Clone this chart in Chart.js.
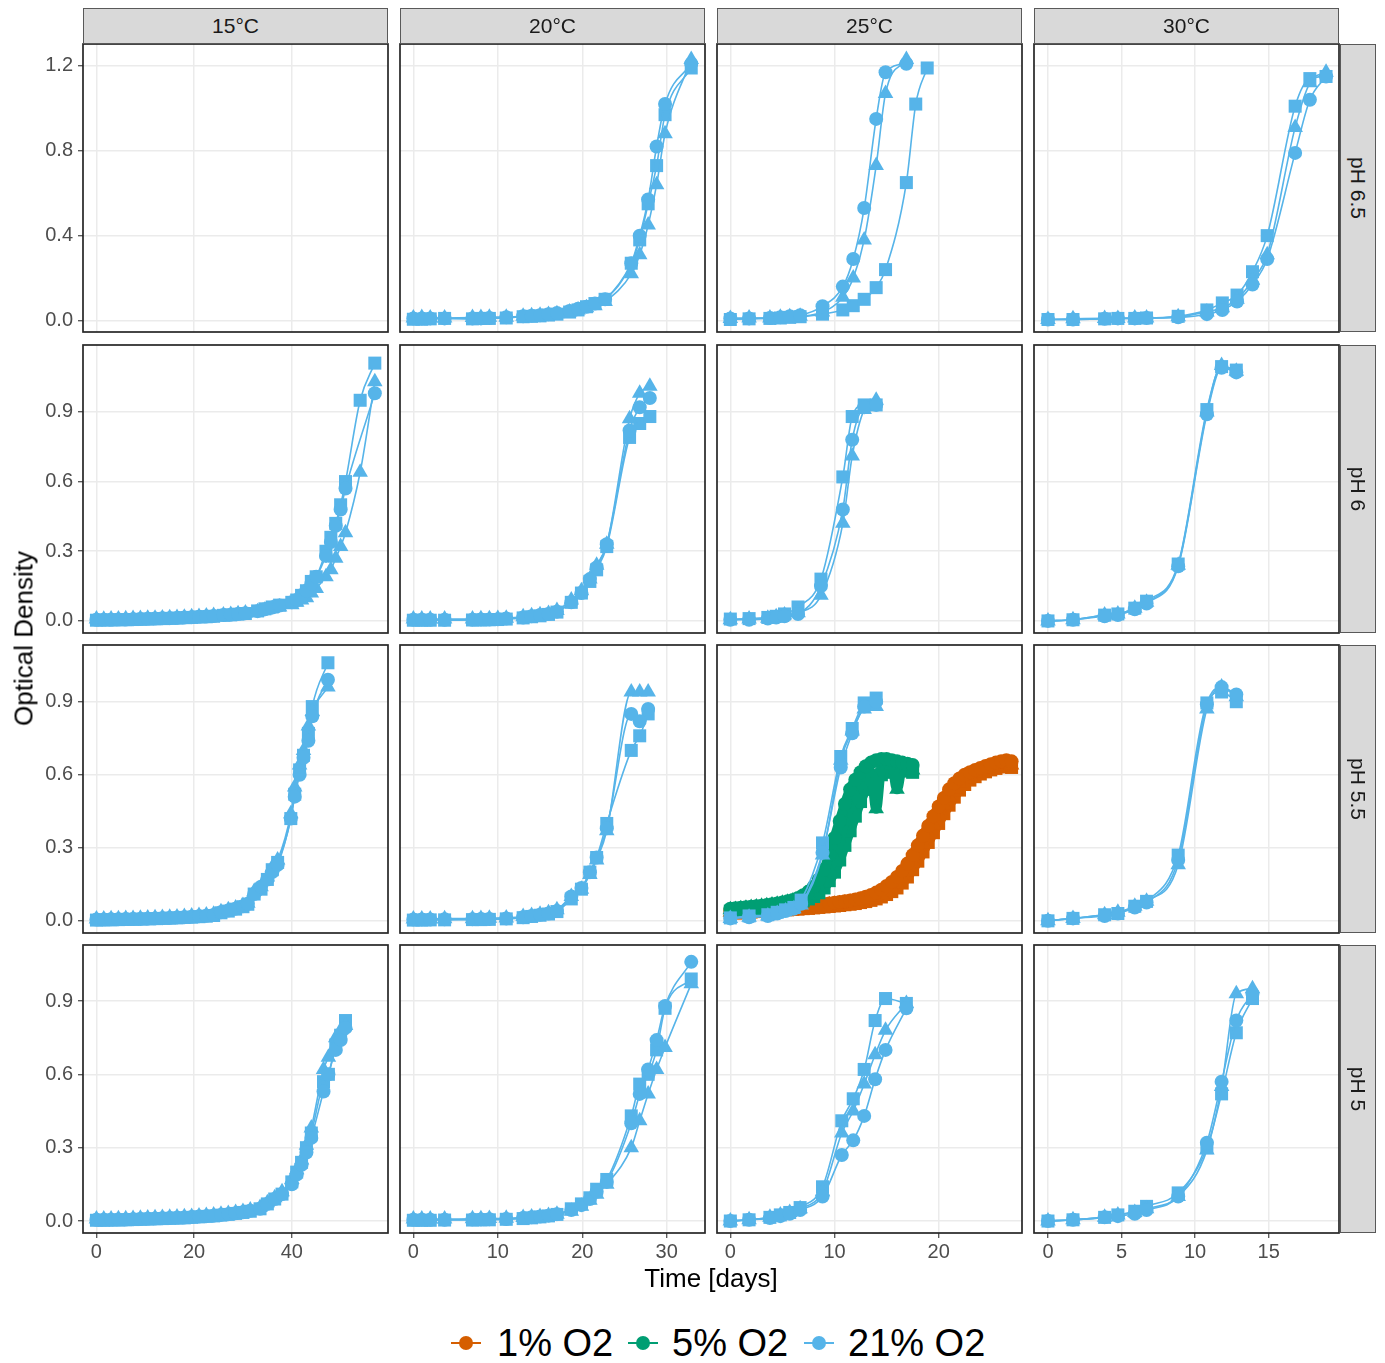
<!DOCTYPE html>
<html>
<head>
<meta charset="utf-8">
<title>Growth curves by temperature, pH and oxygen</title>
<script src="https://cdn.jsdelivr.net/npm/chart.js@4/dist/chart.umd.min.js"></script>
<style>
  html, body { margin: 0; padding: 0; background: #ffffff; }
  #fig { position: relative; width: 1385px; height: 1363px; overflow: hidden;
         font-family: "Liberation Sans", Arial, Helvetica, sans-serif; }
  #fig canvas { position: absolute; }
  .strip { position: absolute; box-sizing: border-box; background: #d9d9d9;
           border: 1px solid #595959; color: #1a1a1a; font-size: 21px;
           display: flex; align-items: center; justify-content: center; }
  .strip span { white-space: nowrap; }
  .strip.row span { transform: rotate(90deg); }
  .axis-title { position: absolute; color: #000; font-size: 26px; white-space: nowrap;
                text-align: center; }
  .legend-text { position: absolute; font-size: 38px; color: #000; white-space: nowrap; line-height: 44px; }
  .legend-line { position: absolute; height: 2px; width: 30px; }
  .legend-dot { position: absolute; width: 14px; height: 14px; border-radius: 50%; }
</style>
</head>
<body>
<div id="fig"></div>
<script>
// ---------------- facet labels and tick values ----------------
const temperatures = ['15°C', '20°C', '25°C', '30°C'];
const phLevels = ['pH 6.5', 'pH 6', 'pH 5.5', 'pH 5'];
const oxygenLevels = ['1% O2', '5% O2', '21% O2'];
const oxygenColours = ['#D55E00', '#009E73', '#56B4E9'];

const xTickValues = [[0, 20, 40], [0, 10, 20, 30], [0, 10, 20], [0, 5, 10, 15]];
const xLimitsLow = [-2.75, -1.58, -1.28, -0.95];
const xLimitsHigh = [59.7, 34.53, 28.0, 19.78];
const yTickValues = [[0, 0.4, 0.8, 1.2], [0, 0.3, 0.6, 0.9], [0, 0.3, 0.6, 0.9], [0, 0.3, 0.6, 0.9]];
const yLimitsLow = [-0.054, -0.052, -0.05, -0.049];
const yLimitsHigh = [1.303, 1.188, 1.133, 1.129];

// ---------------- 21% O2 replicates (r1 circle, r2 triangle, r3 square) ----------------
// 15°C
const days15_pH6 = [0,1.5,3,4.5,6,7.5,9,10.5,12,13.5,15,16.5,18,19.5,21,22.5,24,26,27.5,29,30.5,33,34.5,36,37.5,40,41,42,43,44,45,47,48,49,50,51,54,57];
const od15_pH6_r1 = [0.005,0.005,0.005,0.006,0.006,0.007,0.008,0.009,0.010,0.011,0.012,0.013,0.015,0.016,0.018,0.019,0.021,0.025,0.027,0.030,0.033,0.042,0.050,0.058,0.066,0.08,0.09,0.11,0.13,0.16,0.19,0.28,0.34,0.41,0.48,0.57,null,0.98];
const od15_pH6_r2 = [0.008,0.007,0.008,0.008,0.009,0.010,0.010,0.011,0.012,0.013,0.014,0.015,0.016,0.018,0.019,0.021,0.023,0.026,0.028,0.031,0.034,0.040,0.047,0.054,0.060,0.07,0.08,0.09,0.10,0.12,0.14,0.19,0.22,0.27,0.32,0.38,0.64,1.03];
const od15_pH6_r3 = [0.003,0.004,0.004,0.005,0.005,0.006,0.007,0.008,0.009,0.010,0.011,0.012,0.014,0.015,0.017,0.018,0.020,0.024,0.026,0.029,0.032,0.043,0.052,0.060,0.068,0.08,0.09,0.11,0.13,0.17,0.19,0.30,0.36,0.42,0.50,0.60,0.95,1.11];

const days15_pH55 = [0,1.5,3,4.5,6,7.5,9,10.5,12,13.5,15,16.5,18,19.5,21,22.5,24,25.5,27,28.5,30,31,32.3,33.7,35,36,37.1,39.8,40.6,41.6,42.4,43.4,44.2,47.4];
const od15_pH55_r1 = [0.005,0.005,0.006,0.006,0.007,0.008,0.008,0.009,0.010,0.011,0.012,0.014,0.015,0.017,0.019,0.021,0.024,0.035,0.042,0.050,0.060,0.070,0.11,0.14,0.17,0.20,0.23,0.42,0.51,0.60,0.67,0.74,0.84,0.99];
const od15_pH55_r2 = [0.008,0.008,0.009,0.009,0.010,0.010,0.011,0.012,0.013,0.014,0.015,0.016,0.018,0.020,0.022,0.024,0.027,0.037,0.045,0.053,0.063,0.072,0.12,0.14,0.18,0.22,0.25,0.44,0.55,0.64,0.70,0.80,0.86,0.96];
const od15_pH55_r3 = [0.003,0.004,0.004,0.005,0.006,0.006,0.007,0.008,0.009,0.010,0.011,0.012,0.014,0.015,0.017,0.019,0.022,0.033,0.040,0.048,0.058,0.068,0.11,0.13,0.17,0.21,0.24,0.42,0.52,0.62,0.68,0.77,0.88,1.06];

const days15_pH5 = [0,1.5,3,4.5,6,7.5,9,10.5,12,13.5,15,16.5,18,19.5,21,22.5,24,25.5,27,28.5,30,31.5,33.5,35,36.5,38,40,41,42,43,44,46.5,47.5,49,50,51];
const od15_pH5_r1 = [0.005,0.005,0.005,0.006,0.006,0.007,0.008,0.009,0.010,0.011,0.012,0.013,0.014,0.016,0.018,0.020,0.022,0.025,0.028,0.032,0.036,0.042,0.05,0.07,0.09,0.11,0.15,0.19,0.23,0.28,0.34,0.53,0.60,0.70,0.74,0.79];
const od15_pH5_r2 = [0.008,0.008,0.008,0.009,0.009,0.010,0.011,0.012,0.013,0.014,0.015,0.016,0.017,0.019,0.021,0.023,0.025,0.028,0.031,0.035,0.039,0.045,0.055,0.075,0.095,0.12,0.17,0.21,0.25,0.31,0.38,0.62,0.67,0.75,0.78,0.80];
const od15_pH5_r3 = [0.003,0.003,0.004,0.004,0.005,0.006,0.007,0.008,0.009,0.010,0.011,0.012,0.013,0.015,0.017,0.019,0.021,0.024,0.027,0.031,0.035,0.040,0.05,0.07,0.09,0.11,0.16,0.20,0.24,0.30,0.36,0.57,0.60,0.72,0.76,0.82];

// 20°C
const days20_pH65 = [0,1,2,3.7,7,8,9,11,13,14,15,16,17,18.5,19.5,20.5,21.5,22.7,25.8,26.8,27.8,28.8,29.8,32.9];
const od20_pH65_r1 = [0.01,0.01,0.01,0.01,0.01,0.01,0.012,0.015,0.02,0.022,0.025,0.03,0.035,0.045,0.055,0.065,0.08,0.10,0.27,0.40,0.57,0.82,1.02,1.21];
const od20_pH65_r2 = [0.012,0.014,0.012,0.012,0.014,0.014,0.016,0.016,0.02,0.022,0.025,0.028,0.032,0.04,0.05,0.06,0.07,0.09,0.22,0.31,0.45,0.64,0.88,1.23];
const od20_pH65_r3 = [0.006,0.006,0.008,0.01,0.008,0.01,0.01,0.012,0.018,0.02,0.022,0.026,0.03,0.04,0.05,0.065,0.08,0.10,0.27,0.38,0.55,0.73,0.97,1.19];

const days20_pH6 = [0,1,2,3.7,7,8,9,10,11,13,14,15,16,17,18.7,19.9,20.9,21.7,22.9,25.6,26.8,28];
const od20_pH6_r1 = [0.005,0.005,0.005,0.005,0.005,0.006,0.006,0.007,0.010,0.015,0.020,0.025,0.030,0.040,0.08,0.12,0.18,0.23,0.33,0.82,0.92,0.96];
const od20_pH6_r2 = [0.008,0.008,0.008,0.008,0.008,0.009,0.009,0.010,0.012,0.018,0.022,0.027,0.032,0.045,0.09,0.13,0.18,0.24,0.33,0.87,0.98,1.01];
const od20_pH6_r3 = [0.003,0.003,0.003,0.003,0.004,0.004,0.005,0.006,0.008,0.013,0.018,0.022,0.028,0.038,0.08,0.12,0.17,0.22,0.32,0.79,0.85,0.88];

const days20_pH55 = [0,1,2,3.7,7,8,9,11,13,14,15,16,17,18.7,19.9,20.9,21.7,22.9,25.8,26.8,27.8];
const od20_pH55_r1 = [0.005,0.005,0.005,0.006,0.006,0.007,0.008,0.010,0.015,0.020,0.025,0.030,0.040,0.10,0.135,0.20,0.26,0.38,0.85,0.82,0.87];
const od20_pH55_r2 = [0.008,0.008,0.008,0.009,0.009,0.010,0.011,0.012,0.018,0.022,0.027,0.033,0.045,0.10,0.13,0.19,0.25,0.37,0.94,0.94,0.94];
const od20_pH55_r3 = [0.003,0.003,0.004,0.004,0.005,0.005,0.006,0.008,0.013,0.018,0.023,0.028,0.038,0.09,0.13,0.20,0.26,0.40,0.70,0.76,0.85];

const days20_pH5 = [0,1,2,3.7,7,8,9,11,13,14,15,16,17,18.7,19.9,20.9,21.7,22.9,25.8,26.8,27.8,28.8,29.8,32.9];
const od20_pH5_r1 = [0.005,0.005,0.005,0.005,0.006,0.006,0.007,0.008,0.012,0.015,0.018,0.022,0.028,0.045,0.065,0.09,0.12,0.16,0.40,0.52,0.62,0.74,0.88,1.06];
const od20_pH5_r2 = [0.008,0.008,0.008,0.008,0.009,0.009,0.010,0.011,0.014,0.016,0.019,0.023,0.028,0.040,0.06,0.085,0.11,0.15,0.30,0.41,0.52,0.62,0.71,0.97];
const od20_pH5_r3 = [0.003,0.003,0.003,0.004,0.004,0.005,0.005,0.007,0.010,0.013,0.017,0.021,0.027,0.050,0.07,0.095,0.13,0.17,0.43,0.56,0.60,0.70,0.87,0.99];

// 25°C
const days25_pH65 = [0,1.8,3.8,4.8,5.7,6.7,8.85,10.8,11.8,12.85,14,14.9,16.9,17.8,18.9];
const od25_pH65_r1 = [0.01,0.01,0.012,0.015,0.02,0.025,0.067,0.16,0.29,0.53,0.95,1.17,1.21,null,null];
const od25_pH65_r2 = [0.01,0.012,0.012,0.015,0.018,0.02,0.04,0.11,0.20,0.38,0.73,1.07,1.23,null,null];
const od25_pH65_r3 = [0.005,0.008,0.01,0.012,0.015,0.018,0.03,0.05,0.07,0.10,0.155,0.24,0.65,1.02,1.19];

const days25_pH6 = [0,1.8,3.6,4.4,5.2,6.5,8.7,10.8,11.7,12.85,14];
const od25_pH6_r1 = [0.005,0.005,0.01,0.015,0.02,0.03,0.15,0.48,0.78,0.92,0.93];
const od25_pH6_r2 = [0.005,0.008,0.012,0.018,0.025,0.035,0.11,0.42,0.71,0.91,0.95];
const od25_pH6_r3 = [0.008,0.01,0.015,0.02,0.03,0.06,0.18,0.62,0.88,0.93,0.93];

const days25_pH55 = [0,1.8,3.6,4.5,5.3,6.1,6.8,8.85,10.6,11.7,12.85,14];
const od25_pH55_r1 = [0.01,0.015,0.02,0.03,0.04,0.05,0.07,0.28,0.63,0.77,0.88,0.90];
const od25_pH55_r2 = [0.01,0.015,0.02,0.03,0.04,0.05,0.065,0.27,0.66,0.78,0.87,0.88];
const od25_pH55_r3 = [0.012,0.02,0.025,0.035,0.045,0.055,0.085,0.32,0.675,0.79,0.895,0.915];

const days25_pH5 = [0,1.8,3.8,4.8,5.7,6.7,8.85,10.7,11.8,12.85,13.9,14.9,16.9];
const od25_pH5_r1 = [0,0.005,0.012,0.02,0.03,0.045,0.10,0.27,0.33,0.43,0.58,0.70,0.87];
const od25_pH5_r2 = [0,0.005,0.015,0.025,0.035,0.05,0.12,0.36,0.45,0.56,0.68,0.78,0.89];
const od25_pH5_r3 = [0,0.005,0.015,0.025,0.035,0.055,0.14,0.41,0.50,0.62,0.82,0.91,0.89];

// 30°C
const days30_pH65 = [0,1.7,3.85,4.75,5.9,6.7,8.85,10.8,11.85,12.85,13.9,14.9,16.8,17.8,18.9];
const od30_pH65_r1 = [0.005,0.005,0.008,0.01,0.01,0.012,0.015,0.03,0.05,0.09,0.17,0.29,0.79,1.04,1.15];
const od30_pH65_r2 = [0.005,0.008,0.01,0.01,0.012,0.012,0.018,0.04,0.06,0.10,0.19,0.31,0.91,1.12,1.17];
const od30_pH65_r3 = [0.005,0.005,0.008,0.01,0.01,0.012,0.02,0.05,0.083,0.12,0.23,0.40,1.01,1.14,1.15];

const days30_pH6 = [0,1.7,3.85,4.75,5.9,6.7,8.85,10.8,11.8,12.8];
const od30_pH6_r1 = [0,0.005,0.02,0.025,0.05,0.075,0.235,0.89,1.09,1.07];
const od30_pH6_r2 = [0,0.005,0.025,0.03,0.055,0.08,0.24,0.90,1.10,1.075];
const od30_pH6_r3 = [0,0.005,0.025,0.03,0.055,0.085,0.245,0.91,1.095,1.08];

const days30_pH55 = [0,1.7,3.85,4.75,5.9,6.7,8.85,10.8,11.8,12.8];
const od30_pH55_r1 = [0,0.01,0.02,0.03,0.055,0.075,0.25,0.89,0.96,0.93];
const od30_pH55_r2 = [0,0.01,0.025,0.035,0.06,0.08,0.23,0.87,0.96,0.92];
const od30_pH55_r3 = [0,0.01,0.025,0.03,0.06,0.08,0.27,0.895,0.94,0.90];

const days30_pH5 = [0,1.7,3.85,4.75,5.9,6.7,8.85,10.8,11.8,12.8,13.9];
const od30_pH5_r1 = [0,0.005,0.015,0.02,0.03,0.045,0.10,0.32,0.57,0.82,0.93];
const od30_pH5_r2 = [0,0.005,0.015,0.025,0.035,0.05,0.10,0.29,0.55,0.93,0.95];
const od30_pH5_r3 = [0,0.005,0.015,0.025,0.04,0.06,0.115,0.30,0.52,0.77,0.91];

// ---------------- low-oxygen runs at 25°C, pH 5.5 (continuous readings) ----------------
const days25_pH55_1pct = [0,0.5,1,1.5,2,2.5,3,3.5,4,4.5,5,5.5,6,6.5,7,7.5,8,8.5,9,9.5,10,10.5,11,11.5,12,12.5,13,13.5,14,14.5,15,15.5,16,16.5,17,17.5,18,18.5,19,19.5,20,20.5,21,21.5,22,22.5,23,23.5,24,24.5,25,25.5,26,26.5,27];
const od25_pH55_1pct_r1 = [0.040,0.042,0.044,0.045,0.047,0.048,0.050,0.051,0.052,0.053,0.055,0.056,0.058,0.059,0.061,0.063,0.065,0.067,0.069,0.071,0.074,0.077,0.080,0.084,0.088,0.093,0.099,0.106,0.116,0.128,0.143,0.160,0.180,0.205,0.235,0.270,0.310,0.350,0.390,0.430,0.470,0.505,0.540,0.565,0.585,0.600,0.610,0.620,0.628,0.636,0.643,0.650,0.656,0.660,0.655];
const od25_pH55_1pct_r2 = [0.035,0.037,0.039,0.040,0.042,0.043,0.045,0.046,0.047,0.048,0.050,0.051,0.053,0.054,0.056,0.058,0.060,0.062,0.064,0.066,0.068,0.070,0.073,0.076,0.079,0.083,0.087,0.092,0.099,0.108,0.120,0.135,0.152,0.175,0.205,0.240,0.278,0.318,0.358,0.398,0.437,0.475,0.510,0.540,0.565,0.583,0.597,0.608,0.617,0.625,0.632,0.638,0.643,0.645,0.640];
const od25_pH55_1pct_r3 = [0.030,0.032,0.033,0.035,0.036,0.038,0.039,0.040,0.041,0.043,0.044,0.045,0.047,0.048,0.050,0.051,0.053,0.055,0.057,0.059,0.061,0.063,0.066,0.068,0.071,0.075,0.079,0.084,0.090,0.098,0.108,0.120,0.135,0.155,0.180,0.210,0.245,0.283,0.322,0.362,0.400,0.440,0.475,0.508,0.537,0.560,0.578,0.592,0.603,0.612,0.620,0.626,0.632,0.635,0.630];

const days25_pH55_5pct = [0,0.5,1,1.5,2,2.5,3,3.5,4,4.5,5,5.5,6,6.5,7,7.5,8,8.5,9,9.5,10,10.5,11,11.5,12,12.5,13,13.5,14,14.5,15,15.5,16,16.5,17,17.5];
const od25_pH55_5pct_r1 = [0.050,0.052,0.054,0.056,0.058,0.060,0.062,0.065,0.068,0.071,0.075,0.080,0.086,0.094,0.105,0.120,0.140,0.170,0.210,0.270,0.340,0.410,0.480,0.540,0.580,0.610,0.635,0.650,0.660,0.665,0.665,0.660,0.655,0.650,0.645,0.640];
const od25_pH55_5pct_r2 = [0.045,0.047,0.050,0.052,0.055,0.057,0.060,0.062,0.065,0.068,0.072,0.076,0.081,0.087,0.095,0.106,0.120,0.140,0.170,0.210,0.260,0.330,0.410,0.470,0.520,0.560,0.590,0.610,0.460,0.630,0.640,0.640,0.540,0.630,0.625,0.620];
const od25_pH55_5pct_r3 = [0.040,0.042,0.044,0.046,0.048,0.050,0.052,0.054,0.057,0.060,0.063,0.067,0.071,0.076,0.082,0.090,0.100,0.115,0.135,0.165,0.200,0.250,0.310,0.370,0.430,0.490,0.540,0.570,0.590,0.600,0.610,0.615,0.620,0.620,0.615,0.610];

// ---------------- facet grid: rows = pH, columns = temperature ----------------
const airSeries = [
  [null,
   [days20_pH65, od20_pH65_r1, od20_pH65_r2, od20_pH65_r3],
   [days25_pH65, od25_pH65_r1, od25_pH65_r2, od25_pH65_r3],
   [days30_pH65, od30_pH65_r1, od30_pH65_r2, od30_pH65_r3]],
  [[days15_pH6, od15_pH6_r1, od15_pH6_r2, od15_pH6_r3],
   [days20_pH6, od20_pH6_r1, od20_pH6_r2, od20_pH6_r3],
   [days25_pH6, od25_pH6_r1, od25_pH6_r2, od25_pH6_r3],
   [days30_pH6, od30_pH6_r1, od30_pH6_r2, od30_pH6_r3]],
  [[days15_pH55, od15_pH55_r1, od15_pH55_r2, od15_pH55_r3],
   [days20_pH55, od20_pH55_r1, od20_pH55_r2, od20_pH55_r3],
   [days25_pH55, od25_pH55_r1, od25_pH55_r2, od25_pH55_r3],
   [days30_pH55, od30_pH55_r1, od30_pH55_r2, od30_pH55_r3]],
  [[days15_pH5, od15_pH5_r1, od15_pH5_r2, od15_pH5_r3],
   [days20_pH5, od20_pH5_r1, od20_pH5_r2, od20_pH5_r3],
   [days25_pH5, od25_pH5_r1, od25_pH5_r2, od25_pH5_r3],
   [days30_pH5, od30_pH5_r1, od30_pH5_r2, od30_pH5_r3]]
];
const lowOxygenSeries = {
  '2,2': [
    [1, days25_pH55_5pct, od25_pH55_5pct_r1, od25_pH55_5pct_r2, od25_pH55_5pct_r3],
    [0, days25_pH55_1pct, od25_pH55_1pct_r1, od25_pH55_1pct_r2, od25_pH55_1pct_r3]
  ]
};

// ---------------- layout ----------------
const FONT = '"Liberation Sans", Arial, Helvetica, sans-serif';
const COL_X = [83, 400, 717, 1034];
const ROW_Y = [44, 345, 645, 945];
const PANEL_W = 305, PANEL_H = 288, PAD = 3;
const Y_AXIS_W = 62, X_AXIS_H = 36;
const replicateMarks = [
  { pointStyle: 'circle', radius: 7 },
  { pointStyle: 'triangle', radius: 9 },
  { pointStyle: 'rect', radius: 9.2 }
];

const fig = document.getElementById('fig');

function makeDatasets(days, reps, colour, lineWidth) {
  return reps.map((vals, i) => ({
    data: days.map((d, k) => ({ x: d, y: vals[k] })),
    showLine: true,
    spanGaps: true,
    cubicInterpolationMode: 'monotone',
    borderColor: colour,
    backgroundColor: colour,
    borderWidth: lineWidth,
    borderJoinStyle: 'round',
    borderCapStyle: 'round',
    pointStyle: replicateMarks[i].pointStyle,
    pointRadius: replicateMarks[i].radius,
    pointHoverRadius: replicateMarks[i].radius,
    pointBackgroundColor: colour,
    pointBorderWidth: 0
  }));
}

const panelBorder = {
  id: 'panelBorder',
  afterDatasetsDraw(chart) {
    const { ctx, chartArea: a } = chart;
    ctx.save();
    ctx.strokeStyle = '#262626';
    ctx.lineWidth = 1.7;
    ctx.strokeRect(a.left, a.top, a.right - a.left, a.bottom - a.top);
    ctx.restore();
  }
};

function clearScalePadding(s) {
  s.paddingLeft = 0; s.paddingRight = 0; s.paddingTop = 0; s.paddingBottom = 0;
}

function makePanel(row, col) {
  const showY = col === 0, showX = row === 3;
  const yw = showY ? Y_AXIS_W : 0, xh = showX ? X_AXIS_H : 0;
  const canvas = document.createElement('canvas');
  canvas.width = PANEL_W + yw + 2 * PAD;
  canvas.height = PANEL_H + xh + 2 * PAD;
  canvas.style.left = (COL_X[col] - yw - PAD) + 'px';
  canvas.style.top = (ROW_Y[row] - PAD) + 'px';
  fig.appendChild(canvas);

  const datasets = [];
  const air = airSeries[row][col];
  if (air) datasets.push(...makeDatasets(air[0], air.slice(1), oxygenColours[2], 1.6));
  const low = lowOxygenSeries[row + ',' + col];
  if (low) low.forEach(s => datasets.push(...makeDatasets(s[1], s.slice(2), oxygenColours[s[0]], 10)));

  new Chart(canvas, {
    type: 'scatter',
    data: { datasets },
    options: {
      responsive: false,
      animation: false,
      devicePixelRatio: 1,
      events: [],
      layout: { padding: PAD, autoPadding: false },
      plugins: { legend: { display: false }, tooltip: { enabled: false } },
      scales: {
        x: {
          type: 'linear',
          min: xLimitsLow[col], max: xLimitsHigh[col],
          afterBuildTicks: s => { s.ticks = xTickValues[col].map(v => ({ value: v })); },
          afterFit: s => { s.height = xh; clearScalePadding(s); },
          grid: { color: '#ebebeb', lineWidth: 1.5, drawTicks: showX, tickLength: 5,
                  tickColor: '#333333', tickWidth: 1.1 },
          border: { display: false },
          ticks: { display: showX, color: '#4d4d4d', font: { family: FONT, size: 20 },
                   padding: 2, maxRotation: 0, autoSkip: false, callback: v => String(v) }
        },
        y: {
          type: 'linear',
          min: yLimitsLow[row], max: yLimitsHigh[row],
          afterBuildTicks: s => { s.ticks = yTickValues[row].map(v => ({ value: v })); },
          afterFit: s => { s.width = yw; clearScalePadding(s); },
          grid: { color: '#ebebeb', lineWidth: 1.5, drawTicks: showY, tickLength: 5,
                  tickColor: '#333333', tickWidth: 1.1 },
          border: { display: false },
          ticks: { display: showY, color: '#4d4d4d', font: { family: FONT, size: 20 },
                   padding: 5, autoSkip: false, callback: v => Number(v).toFixed(1) }
        }
      }
    },
    plugins: [panelBorder]
  });
}

for (let r = 0; r < 4; r++) for (let c = 0; c < 4; c++) makePanel(r, c);

// ---------------- facet strips ----------------
temperatures.forEach((t, c) => {
  const d = document.createElement('div');
  d.className = 'strip';
  Object.assign(d.style, { left: COL_X[c] + 'px', top: '8px', width: PANEL_W + 'px', height: '36px' });
  d.innerHTML = '<span>' + t + '</span>';
  fig.appendChild(d);
});
phLevels.forEach((p, r) => {
  const d = document.createElement('div');
  d.className = 'strip row';
  Object.assign(d.style, { left: '1340px', top: ROW_Y[r] + 'px', width: '36px', height: PANEL_H + 'px' });
  d.innerHTML = '<span>' + p + '</span>';
  fig.appendChild(d);
});

// ---------------- axis titles ----------------
const xTitle = document.createElement('div');
xTitle.className = 'axis-title';
xTitle.textContent = 'Time [days]';
Object.assign(xTitle.style, { left: '511px', width: '400px', top: '1263px' });
fig.appendChild(xTitle);

const yTitle = document.createElement('div');
yTitle.className = 'axis-title';
yTitle.textContent = 'Optical Density';
Object.assign(yTitle.style, { left: '-176px', width: '400px', top: '623px', transform: 'rotate(-90deg)' });
fig.appendChild(yTitle);

// ---------------- legend ----------------
const legendKeyX = [466, 643, 819];
const legendTextX = [497, 672, 848];
const legendY = 1343;
oxygenLevels.forEach((label, i) => {
  const line = document.createElement('div');
  line.className = 'legend-line';
  Object.assign(line.style, { left: (legendKeyX[i] - 15) + 'px', top: (legendY - 1) + 'px', background: oxygenColours[i] });
  fig.appendChild(line);
  const dot = document.createElement('div');
  dot.className = 'legend-dot';
  Object.assign(dot.style, { left: (legendKeyX[i] - 7) + 'px', top: (legendY - 7) + 'px', background: oxygenColours[i] });
  fig.appendChild(dot);
  const txt = document.createElement('div');
  txt.className = 'legend-text';
  txt.textContent = label;
  Object.assign(txt.style, { left: legendTextX[i] + 'px', top: (legendY - 22) + 'px' });
  fig.appendChild(txt);
});
</script>
</body>
</html>
